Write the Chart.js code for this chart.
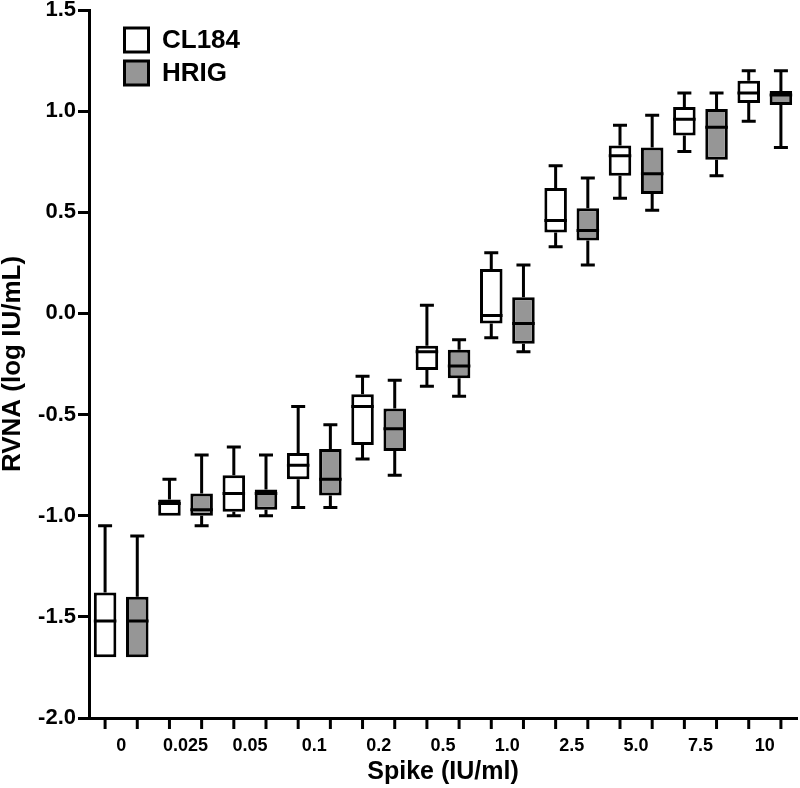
<!DOCTYPE html>
<html>
<head>
<meta charset="utf-8">
<script src="https://cdn.jsdelivr.net/npm/chart.js@4.4.0/dist/chart.umd.min.js"></script>
<style>
  html, body { margin: 0; padding: 0; background: #fff; }
  #wrap { width: 800px; height: 788px; }
</style>
</head>
<body>
<div id="wrap"><canvas id="myChart" width="800" height="788"></canvas></div>
<script>
// spike levels (IU/ml)
const categories = ['0', '0.025', '0.05', '0.1', '0.2', '0.5', '1.0', '2.5', '5.0', '7.5', '10'];

// CL184 box stats (log IU/mL)
const clMin = [-1.70, -1.00, -1.00, -0.96, -0.72, -0.36, -0.12, 0.33, 0.57, 0.80, 0.95];
const clQ1  = [-1.70, -1.00, -0.98, -0.82, -0.65, -0.28, -0.05, 0.40, 0.68, 0.88, 1.04];
const clMed = [-1.52, -0.94, -0.89, -0.75, -0.46, -0.19, -0.01, 0.46, 0.78, 0.96, 1.09];
const clQ3  = [-1.38, -0.92, -0.80, -0.69, -0.40, -0.16, 0.22, 0.62, 0.83, 1.02, 1.15];
const clMax = [-1.05, -0.82, -0.66, -0.46, -0.31, 0.04, 0.30, 0.73, 0.93, 1.09, 1.20];

// HRIG box stats
const hrMin = [-1.70, -1.05, -1.00, -0.96, -0.80, -0.41, -0.19, 0.24, 0.51, 0.68, 0.82];
const hrQ1  = [-1.70, -1.00, -0.97, -0.90, -0.68, -0.32, -0.15, 0.36, 0.59, 0.76, 1.03];
const hrMed = [-1.52, -0.97, -0.89, -0.82, -0.57, -0.26, -0.05, 0.41, 0.69, 0.92, 1.08];
const hrQ3  = [-1.40, -0.89, -0.87, -0.67, -0.47, -0.18, 0.08, 0.52, 0.82, 1.01, 1.10];
const hrMax = [-1.10, -0.70, -0.70, -0.55, -0.33, -0.13, 0.24, 0.67, 0.98, 1.09, 1.20];

const FONT = "'Liberation Sans', Arial, sans-serif";

function boxes(q1, q3){
    return q1.map((v, i) => [v, q3[i]]);
}

// whiskers, medians, x tick marks and the legend
const boxExtras = {
    id: 'boxExtras',
    afterDatasetsDraw(chart){
        const ctx = chart.ctx;
        const ys = chart.scales.y;
        const stats = [
            {min: clMin, med: clMed, q1: clQ1, q3: clQ3, max: clMax},
            {min: hrMin, med: hrMed, q1: hrQ1, q3: hrQ3, max: hrMax}
        ];
        ctx.save();
        ctx.strokeStyle = '#000';
        ctx.lineWidth = 3;
        ctx.lineCap = 'butt';
        chart.data.datasets.forEach((ds, i) => {
            const meta = chart.getDatasetMeta(i);
            const s = stats[i];
            meta.data.forEach((bar, j) => {
                const x = bar.x, hw = bar.width / 2, cap = 7;
                const yMax = ys.getPixelForValue(s.max[j]);
                const yMin = ys.getPixelForValue(s.min[j]);
                const yQ3 = ys.getPixelForValue(s.q3[j]);
                const yQ1 = ys.getPixelForValue(s.q1[j]);
                const yMed = ys.getPixelForValue(s.med[j]);
                ctx.beginPath();
                if (s.max[j] > s.q3[j]) {
                    ctx.moveTo(x, yQ3); ctx.lineTo(x, yMax);
                    ctx.moveTo(x - cap, yMax); ctx.lineTo(x + cap, yMax);
                }
                if (s.min[j] < s.q1[j]) {
                    ctx.moveTo(x, yQ1); ctx.lineTo(x, yMin);
                    ctx.moveTo(x - cap, yMin); ctx.lineTo(x + cap, yMin);
                }
                ctx.moveTo(x - hw, yMed); ctx.lineTo(x + hw, yMed);
                ctx.stroke();
                // tick mark under each box
                const b = chart.chartArea.bottom;
                ctx.beginPath();
                ctx.moveTo(x, b); ctx.lineTo(x, b + 11);
                ctx.stroke();
            });
        });

        // legend in upper left
        const items = chart.data.datasets;
        ctx.font = 'bold 26px ' + FONT;
        ctx.textBaseline = 'middle';
        ctx.textAlign = 'left';
        items.forEach((ds, i) => {
            const top = 28 + i * 33;
            ctx.fillStyle = ds.backgroundColor;
            ctx.fillRect(124.5, top, 24, 24);
            ctx.strokeRect(124.5, top, 24, 24);
            ctx.fillStyle = '#000';
            ctx.fillText(ds.label, 162, top + 13);
        });
        ctx.restore();
    }
};

const ctx = document.getElementById('myChart').getContext('2d');
const myChart = new Chart(ctx, {
    type: 'bar',
    data: {
        labels: categories,
        datasets: [{
            label: 'CL184',
            data: boxes(clQ1, clQ3),
            backgroundColor: '#ffffff',
            borderColor: '#000000',
            borderWidth: 3,
            borderSkipped: false,
            categoryPercentage: 1.0,
            barPercentage: 0.7
        },
        {
            label: 'HRIG',
            data: boxes(hrQ1, hrQ3),
            backgroundColor: '#969696',
            borderColor: '#000000',
            borderWidth: 3,
            borderSkipped: false,
            categoryPercentage: 1.0,
            barPercentage: 0.7
        }]
    },
    options: {
        responsive: false,
        animation: false,
        layout: { padding: { top: 10, right: 3, bottom: 0, left: 0 } },
        plugins: {
            legend: { display: false },
            tooltip: { enabled: false }
        },
        scales: {
            x: {
                grid: { display: false },
                border: { display: true, color: '#000', width: 3 },
                ticks: {
                    color: '#000',
                    padding: 9,
                    maxRotation: 0,
                    font: { family: FONT, size: 18, weight: 'bold' }
                },
                title: {
                    display: true,
                    text: 'Spike (IU/ml)',
                    color: '#000',
                    padding: { top: 0, bottom: 3 },
                    font: { family: FONT, size: 25, weight: 'bold', lineHeight: 1 }
                },
                afterFit: function(scale){ scale.height = 70; scale.paddingLeft = 0; scale.paddingRight = 0; }
            },
            y: {
                min: -2.0,
                max: 1.5,
                ticks: {
                    stepSize: 0.5,
                    color: '#000',
                    padding: 2,
                    font: { family: FONT, size: 22, weight: 'bold' },
                    callback: v => v.toFixed(1)
                },
                grid: {
                    drawOnChartArea: false,
                    drawTicks: true,
                    tickLength: 11,
                    tickWidth: 3,
                    tickColor: '#000'
                },
                border: { display: true, color: '#000', width: 3 },
                title: {
                    display: true,
                    text: 'RVNA (log IU/mL)',
                    color: '#000',
                    padding: { top: 0, bottom: 0 },
                    font: { family: FONT, size: 26, weight: 'bold', lineHeight: 1 }
                },
                afterFit: function(scale){ scale.width = 89; scale.paddingTop = 0; scale.paddingBottom = 0; }
            }
        }
    },
    plugins: [boxExtras]
});
</script>
</body>
</html>
